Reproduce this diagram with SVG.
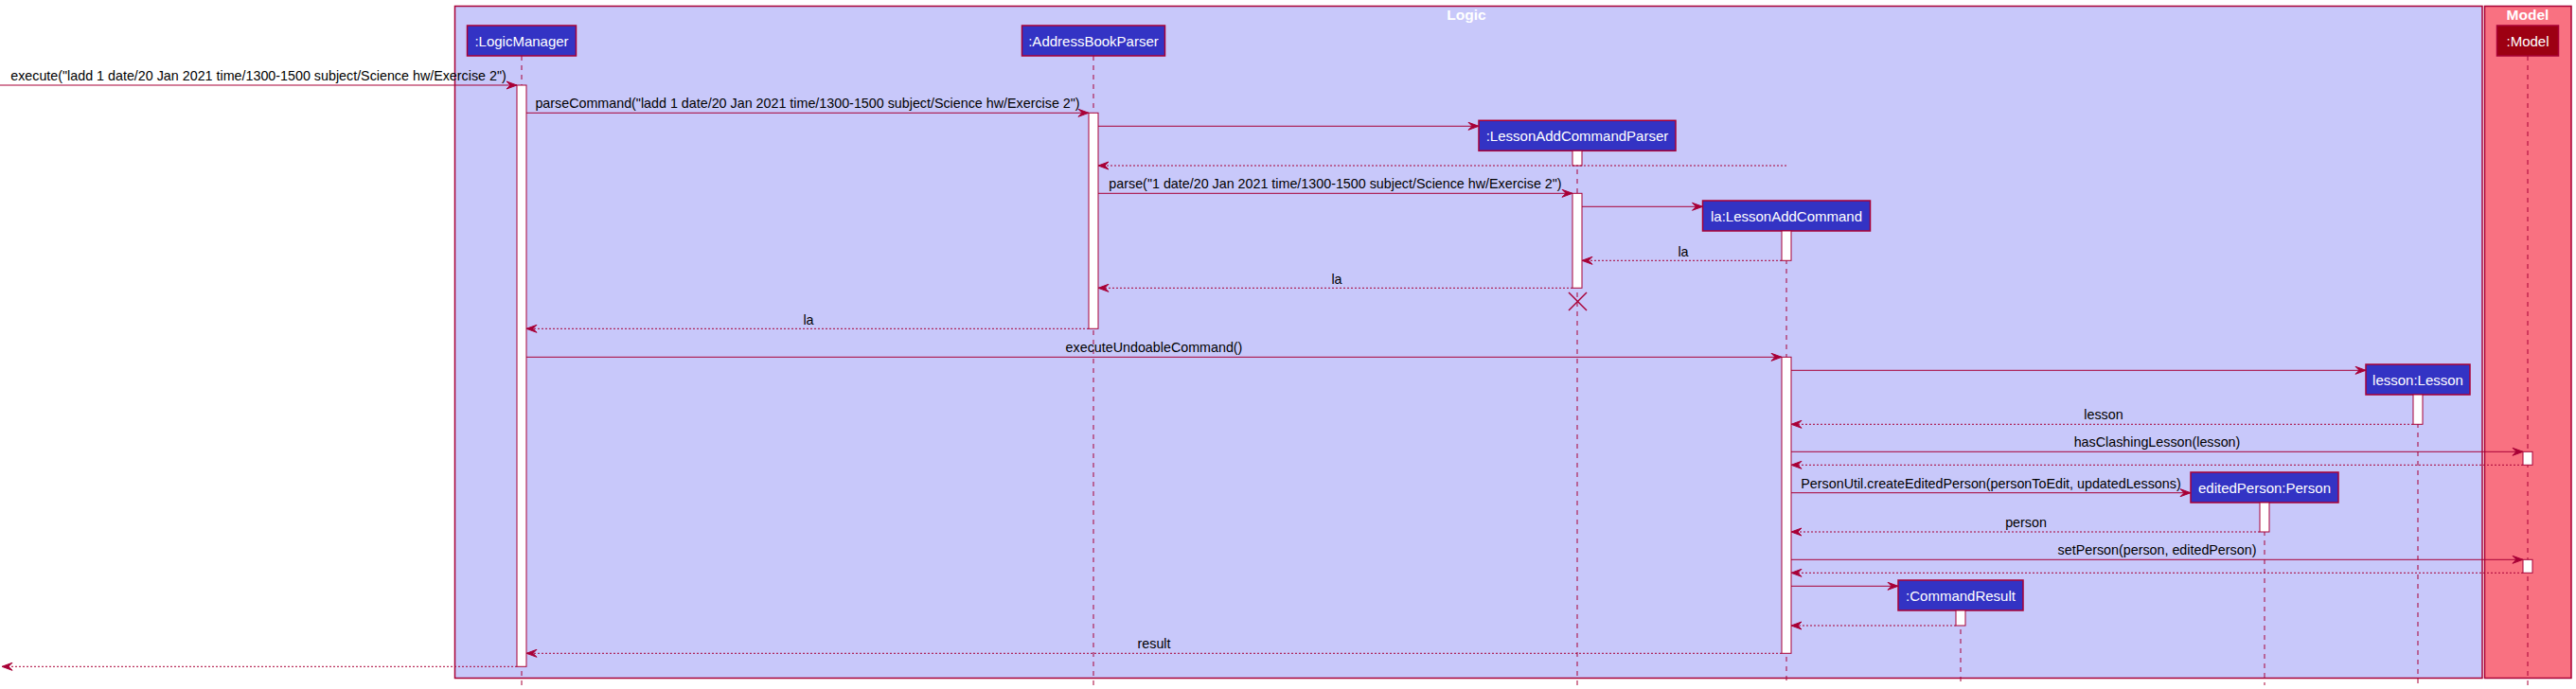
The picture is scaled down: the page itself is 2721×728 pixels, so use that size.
<svg xmlns="http://www.w3.org/2000/svg" width="2721" height="728" viewBox="0 0 2721 728">
<style>
.frame{stroke:#A80036;stroke-width:1.5}
.ftitle{font-family:"Liberation Sans",Arial,sans-serif;font-weight:bold;font-size:15.5px;fill:#FFFFFF;text-anchor:middle}
.life{stroke:#A80036;stroke-width:1;stroke-dasharray:5,5;fill:none}
.pbox{fill:#3333C4;stroke:#A80036;stroke-width:1.5}
.pboxm{fill:#9D0012;stroke:#A80036;stroke-width:1.5}
.ptext{font-family:"Liberation Sans",Arial,sans-serif;font-size:15px;fill:#FFFFFF;text-anchor:middle}
.act{fill:#FFFFFF;stroke:#A80036;stroke-width:1}
.msg{stroke:#A80036;stroke-width:1;fill:none;marker-end:url(#ah)}
.ret{stroke:#A80036;stroke-width:1;fill:none;stroke-dasharray:2,2;marker-end:url(#ah)}
.mtext{font-family:"Liberation Sans",Arial,sans-serif;font-size:14.3px;fill:#000000;text-anchor:middle}
.kill{stroke:#A80036;stroke-width:1.5}
</style>
<defs>
<marker id="ah" markerUnits="userSpaceOnUse" markerWidth="14" markerHeight="10" refX="11" refY="4" orient="auto" overflow="visible">
<path d="M0,0 L11,4 L0,8 L4,4 Z" fill="#A80036" stroke="#A80036" stroke-width="1"/>
</marker>
</defs>
<rect width="2721" height="728" fill="#FFFFFF"/>
<g id="frame-logic">
<rect class="frame" x="480.5" y="6.5" width="2141.5" height="710" fill="#C8C8FA"/>
<text class="ftitle" x="1549" y="21.3">Logic</text>
</g>
<g id="frame-model">
<rect class="frame" x="2624.5" y="6.5" width="91.5" height="710" fill="#F97181"/>
<text class="ftitle" x="2670" y="21.3">Model</text>
</g>
<g id="lifelines">
<line class="life" x1="551" y1="59" x2="551" y2="724"/>
<line class="life" x1="1155" y1="59" x2="1155" y2="724"/>
<line class="life" x1="1666" y1="159" x2="1666" y2="724"/>
<line class="life" x1="1887" y1="244" x2="1887" y2="724"/>
<line class="life" x1="2554" y1="417" x2="2554" y2="724"/>
<line class="life" x1="2392" y1="531" x2="2392" y2="724"/>
<line class="life" x1="2071" y1="645" x2="2071" y2="724"/>
<line class="life" x1="2670" y1="59" x2="2670" y2="724"/>
</g>
<g id="LogicManager">
<rect class="pbox" x="493.5" y="27" width="115" height="32"/>
<text class="ptext" x="551" y="48.5">:LogicManager</text>
<rect class="act" x="546" y="90" width="10" height="614.3"/>
</g>
<g id="AddressBookParser">
<rect class="pbox" x="1079.5" y="27" width="151" height="32"/>
<text class="ptext" x="1155" y="48.5">:AddressBookParser</text>
<rect class="act" x="1150" y="119.3" width="10" height="228"/>
</g>
<g id="LessonAddCommandParser">
<rect class="pbox" x="1562" y="127.3" width="208" height="32"/>
<text class="ptext" x="1666" y="148.8">:LessonAddCommandParser</text>
<rect class="act" x="1661" y="159.3" width="10" height="15.7"/>
<rect class="act" x="1661" y="204.3" width="10" height="100"/>
<line class="kill" x1="1657" y1="309" x2="1676" y2="328"/>
<line class="kill" x1="1676" y1="309" x2="1657" y2="328"/>
</g>
<g id="LessonAddCommand">
<rect class="pbox" x="1798.5" y="212" width="177" height="32"/>
<text class="ptext" x="1887" y="233.5">la:LessonAddCommand</text>
<rect class="act" x="1882" y="244" width="10" height="31.3"/>
<rect class="act" x="1882" y="377.3" width="10" height="313"/>
</g>
<g id="Lesson">
<rect class="pbox" x="2499" y="385" width="110" height="32"/>
<text class="ptext" x="2554" y="406.5">lesson:Lesson</text>
<rect class="act" x="2549" y="417" width="10" height="31.3"/>
</g>
<g id="EditedPerson">
<rect class="pbox" x="2314" y="499" width="156" height="32"/>
<text class="ptext" x="2392" y="520.5">editedPerson:Person</text>
<rect class="act" x="2387" y="531" width="10" height="31"/>
</g>
<g id="CommandResult">
<rect class="pbox" x="2005" y="613" width="132" height="32"/>
<text class="ptext" x="2071" y="634.5">:CommandResult</text>
<rect class="act" x="2066" y="645" width="10" height="16"/>
</g>
<g id="Model">
<rect class="pboxm" x="2637.5" y="27" width="65" height="32"/>
<text class="ptext" x="2670" y="48.5">:Model</text>
<rect class="act" x="2665" y="477.3" width="10" height="14"/>
<rect class="act" x="2665" y="591.3" width="10" height="14"/>
</g>
<g id="connectors">
<line class="msg" x1="0" y1="90" x2="546" y2="90"/>
<text class="mtext" x="273" y="85">execute("ladd 1 date/20 Jan 2021 time/1300-1500 subject/Science hw/Exercise 2")</text>
<line class="msg" x1="556" y1="119.3" x2="1150" y2="119.3"/>
<text class="mtext" x="853" y="114.3">parseCommand("ladd 1 date/20 Jan 2021 time/1300-1500 subject/Science hw/Exercise 2")</text>
<line class="msg" x1="1160" y1="133.3" x2="1562" y2="133.3"/>
<line class="ret" x1="1887" y1="175" x2="1160" y2="175"/>
<line class="msg" x1="1160" y1="204.3" x2="1661" y2="204.3"/>
<text class="mtext" x="1410.5" y="199.3">parse("1 date/20 Jan 2021 time/1300-1500 subject/Science hw/Exercise 2")</text>
<line class="msg" x1="1671" y1="218.3" x2="1798.5" y2="218.3"/>
<line class="ret" x1="1882" y1="275.3" x2="1671" y2="275.3"/>
<text class="mtext" x="1778" y="270.5">la</text>
<line class="ret" x1="1661" y1="304.3" x2="1160" y2="304.3"/>
<text class="mtext" x="1412" y="299.5">la</text>
<line class="ret" x1="1150" y1="347.3" x2="556" y2="347.3"/>
<text class="mtext" x="854" y="342.5">la</text>
<line class="msg" x1="556" y1="377.3" x2="1882" y2="377.3"/>
<text class="mtext" x="1219" y="372.3">executeUndoableCommand()</text>
<line class="msg" x1="1892" y1="391.3" x2="2499" y2="391.3"/>
<line class="ret" x1="2549" y1="448.3" x2="1892" y2="448.3"/>
<text class="mtext" x="2222" y="443.3">lesson</text>
<line class="msg" x1="1892" y1="477.3" x2="2665" y2="477.3"/>
<text class="mtext" x="2278.5" y="472.3">hasClashingLesson(lesson)</text>
<line class="ret" x1="2665" y1="491.3" x2="1892" y2="491.3"/>
<line class="msg" x1="1892" y1="520.7" x2="2314" y2="520.7"/>
<text class="mtext" x="2103" y="515.7">PersonUtil.createEditedPerson(personToEdit, updatedLessons)</text>
<line class="ret" x1="2387" y1="562" x2="1892" y2="562"/>
<text class="mtext" x="2140" y="557">person</text>
<line class="msg" x1="1892" y1="591.3" x2="2665" y2="591.3"/>
<text class="mtext" x="2278.5" y="586.3">setPerson(person, editedPerson)</text>
<line class="ret" x1="2665" y1="605.3" x2="1892" y2="605.3"/>
<line class="msg" x1="1892" y1="619.3" x2="2005" y2="619.3"/>
<line class="ret" x1="2066" y1="661" x2="1892" y2="661"/>
<line class="ret" x1="1882" y1="690.3" x2="556" y2="690.3"/>
<text class="mtext" x="1219" y="685.3">result</text>
<line class="ret" x1="546" y1="704.3" x2="2" y2="704.3"/>
</g>
</svg>
